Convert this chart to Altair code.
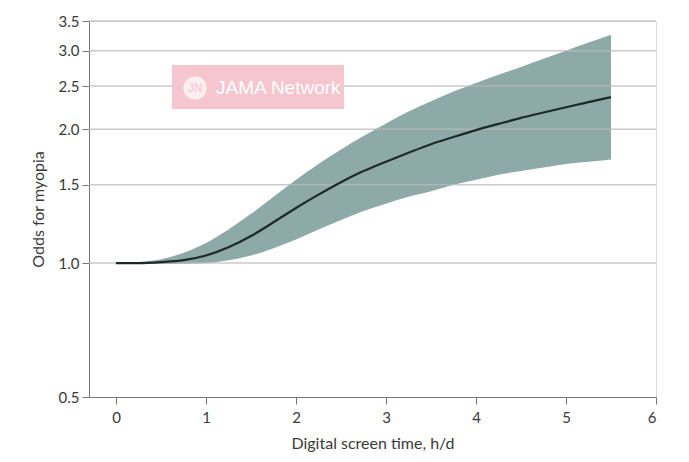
import altair as alt
import pandas as pd

hours = [0, 0.25, 0.5, 0.75, 1.0, 1.25, 1.5, 1.75, 2.0, 2.25, 2.5, 2.75, 3.0, 3.25, 3.5, 3.75, 4.0, 4.25, 4.5, 4.75, 5.0, 5.25, 5.5]
odds = [1.0, 1.0, 1.005, 1.015, 1.04, 1.085, 1.15, 1.235, 1.33, 1.425, 1.52, 1.61, 1.69, 1.77, 1.85, 1.92, 1.99, 2.055, 2.12, 2.18, 2.24, 2.30, 2.36]
upper = [1.0, 1.005, 1.02, 1.055, 1.11, 1.19, 1.29, 1.41, 1.54, 1.67, 1.80, 1.93, 2.06, 2.19, 2.31, 2.43, 2.54, 2.65, 2.76, 2.88, 3.0, 3.13, 3.26]
lower = [1.0, 0.997, 0.995, 0.996, 1.0, 1.015, 1.04, 1.08, 1.13, 1.19, 1.25, 1.31, 1.36, 1.41, 1.45, 1.50, 1.54, 1.58, 1.61, 1.64, 1.67, 1.69, 1.71]
y_ticks = [0.5, 1.0, 1.5, 2.0, 2.5, 3.0, 3.5]
grid_vals = [1.0, 1.5, 2.0, 2.5, 3.0, 3.5]
x_ticks = [0, 1, 2, 3, 4, 5, 6]

df = pd.DataFrame({"h": hours, "odds": odds, "upper": upper, "lower": lower})
gdf = pd.DataFrame({"g": grid_vals})

FONT = "Lato"
W, H = 567, 376
xs = alt.Scale(domain=[-0.3, 6], nice=False, zero=False)
ys = alt.Scale(type="log", domain=[0.5, 3.5], nice=False)

band = alt.Chart(df).mark_area(color="#8eaaa8", opacity=1, interpolate="monotone").encode(
    x=alt.X("h:Q", scale=xs, axis=alt.Axis(values=x_ticks, title="Digital screen time, h/d", grid=False,
                                           format="d", domainColor="#777", tickColor="#777", tickSize=7,
                                           labelFontSize=15, titleFontSize=16, labelColor="#3a3a3a",
                                           titleColor="#3a3a3a", labelFont=FONT, titleFont=FONT,
                                           titleFontWeight="normal", labelPadding=6, titlePadding=10)),
    y=alt.Y("lower:Q", scale=ys, axis=alt.Axis(values=y_ticks, title="Odds for myopia", grid=False,
                                               format=".1f", domainColor="#777", tickColor="#777", tickSize=7,
                                               labelFontSize=15, titleFontSize=16, labelColor="#3a3a3a",
                                               titleColor="#3a3a3a", labelFont=FONT, titleFont=FONT,
                                               titleFontWeight="normal", labelPadding=3, titlePadding=12)),
    y2="upper:Q",
)

grid = alt.Chart(gdf).mark_rule(color="#b8b8b8", strokeWidth=1.5, opacity=0.75).encode(
    y=alt.Y("g:Q", scale=ys),
    x=alt.value(0), x2=alt.value(W),
)

line = alt.Chart(df).mark_line(color="#1c2a2a", strokeWidth=2.2, interpolate="monotone").encode(
    x=alt.X("h:Q", scale=xs), y=alt.Y("odds:Q", scale=ys),
)

wm = alt.Chart(pd.DataFrame({"t": ["JAMA Network"]})).mark_rect(color="#f5c6cf").encode(
    x=alt.value(83), x2=alt.value(255), y=alt.value(44), y2=alt.value(88),
)
wm_text = alt.Chart(pd.DataFrame({"t": ["JAMA Network"]})).mark_text(
    color="white", fontSize=19, font="Liberation Sans", align="left", baseline="middle"
).encode(x=alt.value(127), y=alt.value(67), text="t:N")
wm_circle = alt.Chart(pd.DataFrame({"t": ["JN"]})).mark_point(
    filled=True, color="white", size=550, shape="circle"
).encode(x=alt.value(106), y=alt.value(67))
wm_jn = alt.Chart(pd.DataFrame({"t": ["JN"]})).mark_text(
    color="#f5c6cf", fontSize=12, font="Liberation Sans", align="center", baseline="middle"
).encode(x=alt.value(106), y=alt.value(67), text="t:N")

chart = alt.layer(band, grid, line, wm, wm_circle, wm_jn, wm_text).properties(
    width=W, height=H,
    padding={"left": 22, "top": 6, "right": 5, "bottom": 5},
).configure_view(stroke=None).configure(background="white")

chart.save("out.html", embed_options={"renderer": "svg", "actions": False})
